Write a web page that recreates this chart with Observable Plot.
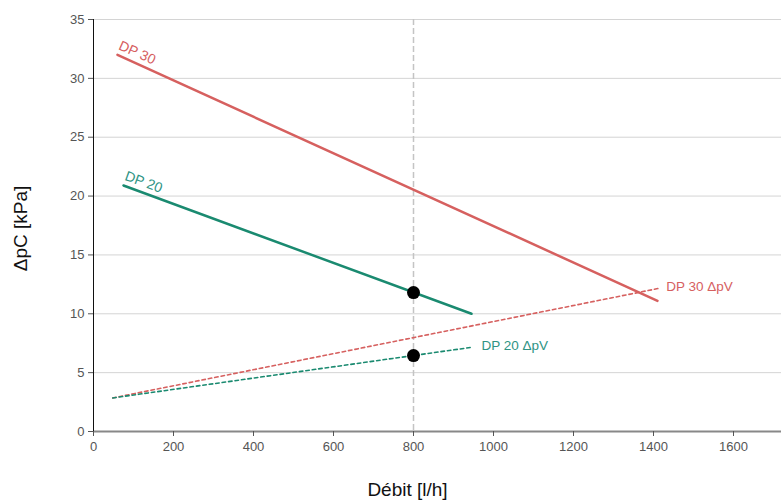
<!DOCTYPE html>
<html>
<head>
<meta charset="utf-8">
<script src="https://cdn.jsdelivr.net/npm/d3@7"></script>
<script src="https://cdn.jsdelivr.net/npm/@observablehq/plot@0.6"></script>
<style>
  html, body { margin: 0; padding: 0; background: #fff; }
  svg { font-family: "Liberation Sans", Arial, sans-serif; }
</style>
</head>
<body>
<div id="chart"></div>
<script>
// Data
const series = ["DP 30", "DP 20"];
const dp30Flow = [60, 1410];
const dp30Pressure = [32.0, 11.1];
const dp20Flow = [75, 945];
const dp20Pressure = [20.9, 10.0];
const dp30pvFlow = [48, 1412];
const dp30pvPressure = [2.85, 12.15];
const dp20pvFlow = [48, 945];
const dp20pvPressure = [2.85, 7.15];
const markerFlow = [800, 800];
const markerPressure = [11.8, 6.45];
const refFlow = 800;
const yTicks = [0, 5, 10, 15, 20, 25, 30, 35];
const xTicks = [0, 200, 400, 600, 800, 1000, 1200, 1400, 1600];
const labels = ["DP 30", "DP 20", "DP 30 ΔpV", "DP 20 ΔpV"];
const yTitle = "ΔpC [kPa]";
const xTitle = "Débit [l/h]";

const RED = "#d6605f";
const TEAL = "#1a8a70";
const TEAL_TXT = "#2e9384";

const pts = (xs, ys) => xs.map((x, i) => ({x, y: ys[i]}));
const dp30 = pts(dp30Flow, dp30Pressure);
const dp20 = pts(dp20Flow, dp20Pressure);
const dp30pv = pts(dp30pvFlow, dp30pvPressure);
const dp20pv = pts(dp20pvFlow, dp20pvPressure);
const markers = pts(markerFlow, markerPressure);

const chart = Plot.plot({
  width: 782,
  height: 504,
  marginLeft: 93,
  marginRight: 1,
  marginTop: 19,
  marginBottom: 73,
  style: {fontFamily: "Liberation Sans, Arial, sans-serif", fontSize: "12px", background: "#fff"},
  x: {domain: [0, 1720], ticks: xTicks},
  y: {domain: [0, 35], ticks: yTicks},
  marks: [
    Plot.ruleY(yTicks.filter(d => d > 0), {stroke: "#d4d4d4", strokeWidth: 1}),
    Plot.ruleX([refFlow], {stroke: "#c4c4c4", strokeWidth: 1.5, strokeDasharray: "6,3"}),
    Plot.ruleY([0], {stroke: "#888", strokeWidth: 2}),
    Plot.ruleX([0], {stroke: "#111", strokeWidth: 1}),
    Plot.axisY({ticks: yTicks, tickSize: 5, tickPadding: 4, stroke: "#555", color: "#555", fontSize: 13,
      tickFormat: d => String(d), label: null}),
    Plot.axisX({ticks: xTicks, tickSize: 5, tickPadding: 5, stroke: "#555", color: "#555", fontSize: 13,
      tickFormat: d => String(d), label: null}),
    Plot.text([yTitle], {text: d => d, frameAnchor: "left", textAnchor: "middle", dx: -73, dy: 3,
      rotate: -90, fontSize: 19, fill: "#111"}),
    Plot.text([xTitle], {text: d => d, frameAnchor: "bottom", textAnchor: "middle", dy: 64, dx: -30,
      fontSize: 19, fill: "#111"}),
    Plot.line(dp30pv, {x: "x", y: "y", stroke: RED, strokeWidth: 1.6, strokeDasharray: "3.5,3"}),
    Plot.line(dp20pv, {x: "x", y: "y", stroke: TEAL, strokeWidth: 1.6, strokeDasharray: "3.5,3"}),
    Plot.line(dp30, {x: "x", y: "y", stroke: RED, strokeWidth: 2.5}),
    Plot.line(dp20, {x: "x", y: "y", stroke: TEAL, strokeWidth: 2.5}),
    Plot.dot(markers, {x: "x", y: "y", r: 6.5, fill: "#000"}),
    Plot.text([dp30[0]], {x: "x", y: "y", text: () => labels[0], rotate: 24, textAnchor: "start",
      dx: 2, dy: -10, fill: RED, fontSize: 14}),
    Plot.text([dp20[0]], {x: "x", y: "y", text: () => labels[1], rotate: 20, textAnchor: "start",
      dx: 2, dy: -10, fill: TEAL_TXT, fontSize: 14}),
    Plot.text([dp30pv[1]], {x: "x", y: "y", text: () => labels[2], textAnchor: "start",
      dx: 8, dy: -2, fill: RED, fontSize: 13.5}),
    Plot.text([dp20pv[1]], {x: "x", y: "y", text: () => labels[3], textAnchor: "start",
      dx: 10, dy: -2, fill: TEAL_TXT, fontSize: 13.5})
  ]
});
document.getElementById("chart").appendChild(chart);
</script>
</body>
</html>
